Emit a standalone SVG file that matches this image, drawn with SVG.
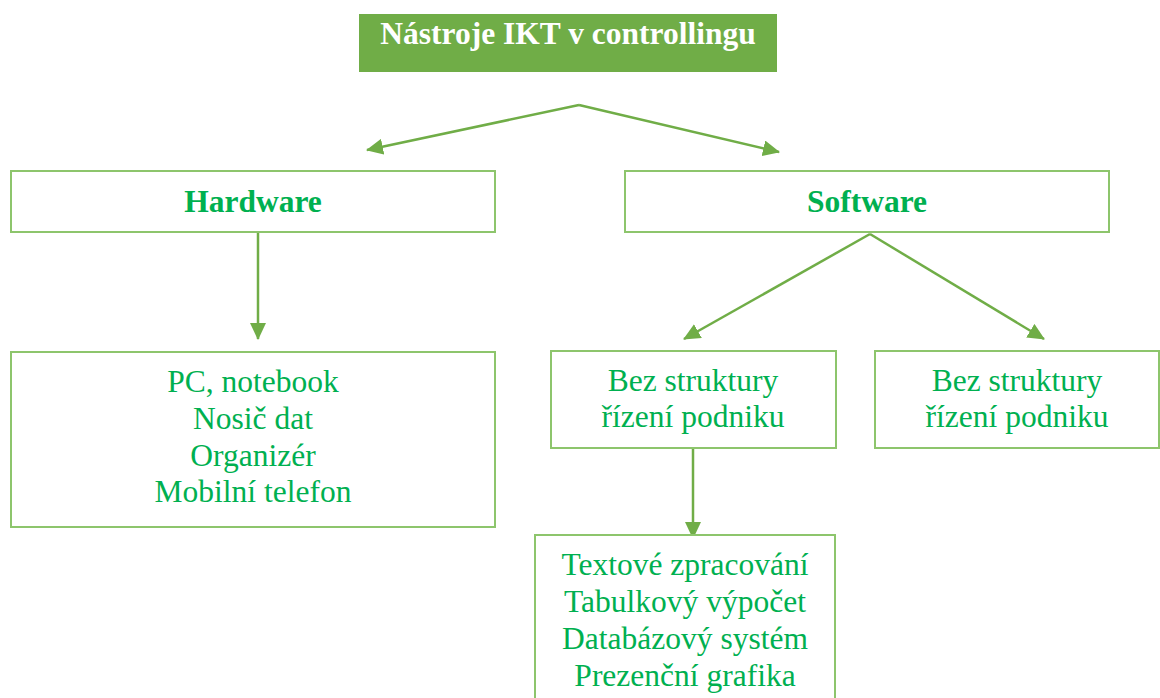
<svg xmlns="http://www.w3.org/2000/svg" width="1160" height="698" viewBox="0 0 1160 698">
<defs>
<marker id="arr" markerUnits="userSpaceOnUse" markerWidth="17" markerHeight="16" refX="16" refY="8" orient="auto">
<path d="M0,0 L17,8 L0,16 z" fill="#70AD47"/>
</marker>
<style>
.box{fill:#fff;stroke:#8DC56C;stroke-width:2}
.t{font-family:"Liberation Serif","Times New Roman",serif;font-size:31.5px;fill:#00B050;text-anchor:middle}
.b{font-weight:bold}
.c{fill:none;stroke:#70AD47;stroke-width:2.5;marker-end:url(#arr)}
</style>
</defs>
<rect width="1160" height="698" fill="#fff"/>
<g id="connectors">
<line class="c" x1="579" y1="105" x2="367" y2="150"/>
<line class="c" x1="579" y1="105" x2="779" y2="152"/>
<line class="c" x1="258" y1="232" x2="258" y2="339"/>
<line class="c" x1="870" y1="234" x2="684" y2="339"/>
<line class="c" x1="870" y1="234" x2="1044" y2="339"/>
<line class="c" x1="693" y1="448" x2="693" y2="538"/>
</g>
<g id="title">
<rect x="359" y="14" width="418" height="58" fill="#70AD47"/>
<text class="t b" x="568" y="44" style="fill:#fff">Nástroje IKT v controllingu</text>
</g>
<g id="hardware">
<rect class="box" x="11" y="171" width="484" height="61"/>
<text class="t b" x="253" y="212">Hardware</text>
</g>
<g id="software">
<rect class="box" x="625" y="171" width="484" height="61"/>
<text class="t b" x="867" y="212">Software</text>
</g>
<g id="hw-items">
<rect class="box" x="11" y="352" width="484" height="175"/>
<text class="t" x="253" y="392">PC, notebook</text>
<text class="t" x="253" y="429">Nosič dat</text>
<text class="t" x="253" y="466">Organizér</text>
<text class="t" x="253" y="502">Mobilní telefon</text>
</g>
<g id="sw-left">
<rect class="box" x="551" y="351" width="285" height="97"/>
<text class="t" x="693" y="391">Bez struktury</text>
<text class="t" x="693" y="427">řízení podniku</text>
</g>
<g id="sw-right">
<rect class="box" x="875" y="351" width="284" height="97"/>
<text class="t" x="1017" y="391">Bez struktury</text>
<text class="t" x="1017" y="427">řízení podniku</text>
</g>
<g id="sw-items">
<rect class="box" x="535" y="535" width="300" height="180"/>
<text class="t" x="685" y="575">Textové zpracování</text>
<text class="t" x="685" y="612">Tabulkový výpočet</text>
<text class="t" x="685" y="649">Databázový systém</text>
<text class="t" x="685" y="686">Prezenční grafika</text>
</g>
</svg>
